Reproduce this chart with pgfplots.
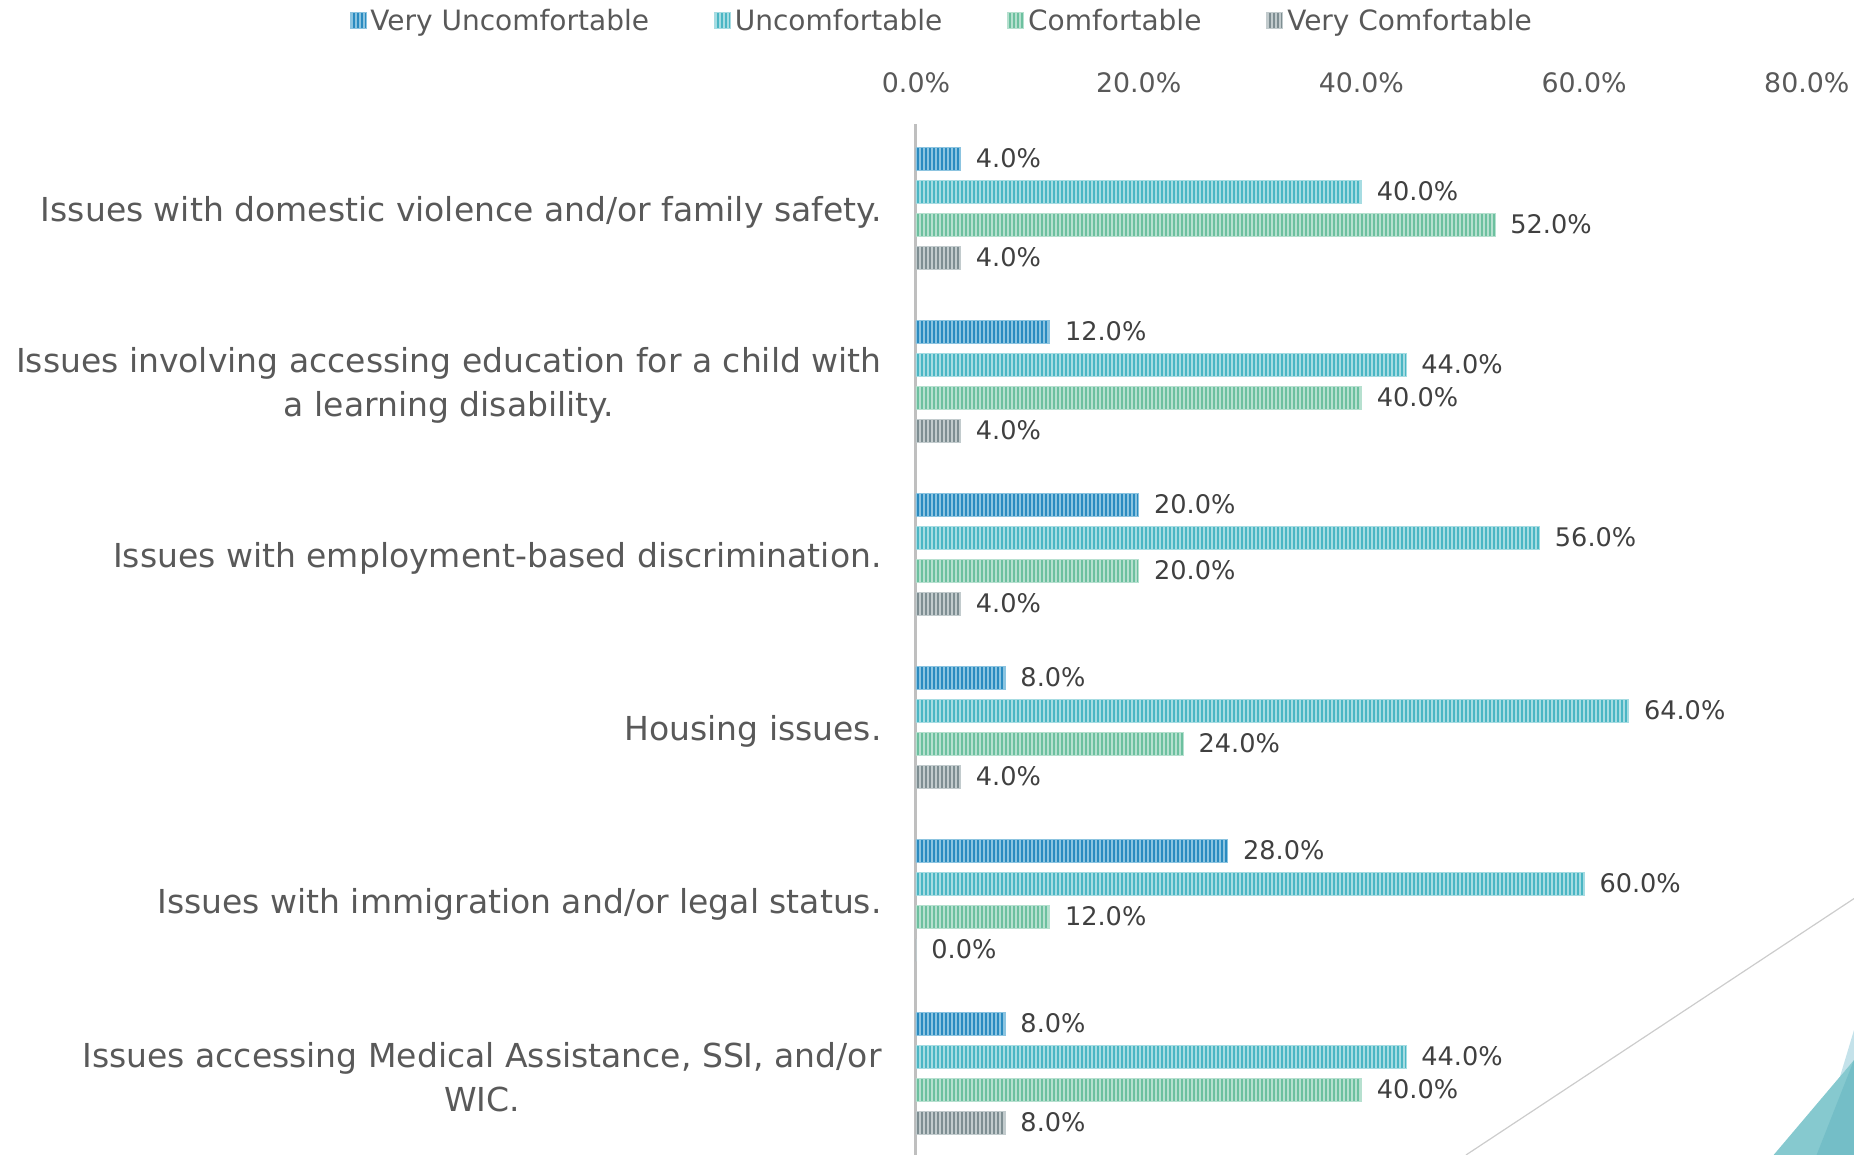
\documentclass[border=0pt]{standalone}
\usepackage{fontspec}
\setmainfont{DejaVu Sans}
\usepackage{pgfplots}
\pgfplotsset{compat=1.18}
\usetikzlibrary{patterns.meta}
\definecolor{vuD}{HTML}{2A8BC0}
\definecolor{vuL}{HTML}{8CC4E0}
\definecolor{uD}{HTML}{4AB6C4}
\definecolor{uL}{HTML}{A6DCE2}
\definecolor{cD}{HTML}{6CC09F}
\definecolor{cL}{HTML}{B6E0CF}
\definecolor{vcD}{HTML}{7E8E92}
\definecolor{vcL}{HTML}{C2CBCD}
\definecolor{txt}{HTML}{595959}
\definecolor{lbl}{HTML}{404040}
\definecolor{axisgray}{HTML}{BFBFBF}
\definecolor{tealA}{HTML}{86C9CF}
\definecolor{tealB}{HTML}{74BEC7}
\definecolor{tealC}{HTML}{C4E2EA}
\begin{document}
\begin{tikzpicture}
\begin{axis}[
  at={(458pt,0pt)}, anchor=south west,
  scale only axis, width=445.4pt, height=515.5pt,
  xbar=5.2pt, bar width=11.3pt,
  xmin=0, xmax=80,
  ymin=-0.47, ymax=5.489,
  ytick={0,1,2,3,4,5},
  yticklabels={
    {Issues accessing Medical Assistance, SSI, and/or\\WIC.},
    {Issues with immigration and/or legal status.},
    {Housing issues.},
    {Issues with employment-based discrimination.},
    {Issues involving accessing education for a child with\\a learning disability.},
    {Issues with domestic violence and/or family safety.}},
  yticklabel style={align=center, anchor=east, inner sep=0pt, xshift=-17pt, yshift=-1.8pt,
    font=\fontsize{16.5}{21.9}\selectfont, text=txt},
  xtick={0,20,40,60,80},
  axis x line*=top, axis y line*=left,
  x axis line style={draw=none},
  y axis line style={draw=axisgray, line width=1.5pt},
  major tick length=0pt, tick style={draw=none},
  /pgf/number format/assume math mode=true,
  xticklabel={\pgfmathprintnumber[fixed,fixed zerofill,precision=1]{\tick}\%},
  xticklabel style={anchor=center, yshift=20.5pt, inner sep=0pt,
    font=\fontsize{13.4}{15}\selectfont, text=txt},
  point meta=x,
  nodes near coords={\pgfmathprintnumber[fixed,fixed zerofill,precision=1]{\pgfplotspointmeta}\%},
  every node near coord/.append style={anchor=west, inner sep=0pt, xshift=7.5pt, yshift=0.3pt,
    font=\fontsize{12.8}{14}\selectfont, text=lbl},
  legend columns=4,
  reverse legend,
  legend style={at={(0.03,1.1)}, anchor=center, draw=none, fill=none,
    font=\fontsize{14}{16}\selectfont, text=txt,
    /tikz/every even column/.append style={column sep=30.5pt}},
  legend image code/.code={\draw[#1] (0pt,-4pt) rectangle (8pt,4pt);},
]
\addplot[fill=vcD, draw=vcL, line width=0.4pt,
  postaction={pattern={Lines[angle=90,distance=2pt,line width=0.8pt]}, pattern color=vcL}]
  coordinates {(8,0) (0,1) (4,2) (4,3) (4,4) (4,5)};
\addplot[fill=cD, draw=cL, line width=0.4pt,
  postaction={pattern={Lines[angle=90,distance=2pt,line width=0.8pt]}, pattern color=cL}]
  coordinates {(40,0) (12,1) (24,2) (20,3) (40,4) (52,5)};
\addplot[fill=uD, draw=uL, line width=0.4pt,
  postaction={pattern={Lines[angle=90,distance=2pt,line width=0.8pt]}, pattern color=uL}]
  coordinates {(44,0) (60,1) (64,2) (56,3) (44,4) (40,5)};
\addplot[fill=vuD, draw=vuL, line width=0.4pt,
  postaction={pattern={Lines[angle=90,distance=2pt,line width=0.8pt]}, pattern color=vuL}]
  coordinates {(8,0) (28,1) (8,2) (20,3) (12,4) (4,5)};
\legend{Very Comfortable, Comfortable, Uncomfortable, Very Uncomfortable}
\end{axis}
% slide decoration (background art, not data)
\draw[axisgray!80, line width=0.6pt] (733pt,0pt) -- (927pt,128.2pt);
\fill[tealC] (920pt,39.2pt) -- (927pt,62.5pt) -- (927pt,47.5pt) -- cycle;
\fill[tealA] (886.8pt,0pt) -- (920pt,39.2pt) -- (927pt,47.5pt) -- (927pt,0pt) -- cycle;
\fill[tealB] (908.3pt,0pt) -- (927pt,47.5pt) -- (927pt,0pt) -- cycle;
\pgfresetboundingbox
\path[use as bounding box] (0pt,0pt) rectangle (927pt,577.5pt);
\end{tikzpicture}
\end{document}
